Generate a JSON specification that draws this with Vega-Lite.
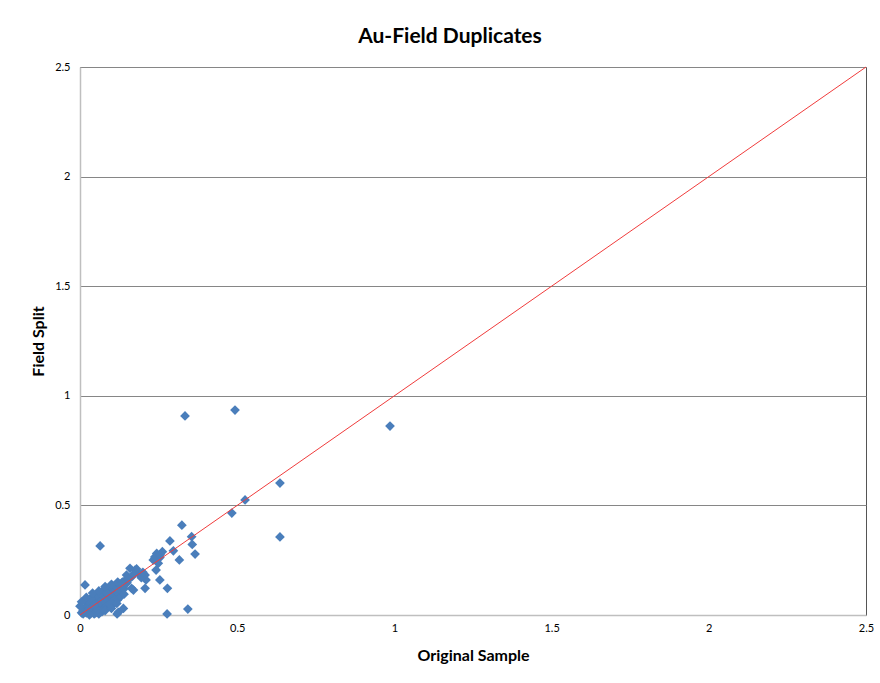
{
  "$schema": "https://vega.github.io/schema/vega-lite/v6.json",
  "width": 786,
  "height": 548,
  "autosize": "none",
  "padding": {"left": 80, "top": 67, "right": 14, "bottom": 68},
  "background": "white",
  "title": {
    "text": "Au-Field Duplicates",
    "font": "Lato",
    "fontSize": 21,
    "fontWeight": "bold",
    "color": "#000000",
    "anchor": "middle",
    "dx": -23,
    "offset": 14
  },
  "config": {
    "view": {"stroke": "#555555", "strokeWidth": 1},
    "axis": {
      "labelFont": "Lato",
      "labelFontSize": 11,
      "labelColor": "#000000",
      "titleFont": "Lato",
      "titleFontSize": 16,
      "titleFontWeight": "bold",
      "titleColor": "#000000",
      "domainColor": "#bfbfbf",
      "domainWidth": 1.5,
      "ticks": false,
      "format": "~g"
    }
  },
  "datasets": {
    "pts": [
      {"orig": 0.005, "split": 0.01}, {"orig": 0.01, "split": 0.005}, {"orig": 0.01, "split": 0.02},
      {"orig": 0.015, "split": 0.03}, {"orig": 0.02, "split": 0.01}, {"orig": 0.02, "split": 0.04},
      {"orig": 0.02, "split": 0.06}, {"orig": 0.025, "split": 0.02}, {"orig": 0.03, "split": 0.05},
      {"orig": 0.03, "split": 0.03}, {"orig": 0.03, "split": 0.07}, {"orig": 0.035, "split": 0.01},
      {"orig": 0.04, "split": 0.04}, {"orig": 0.04, "split": 0.06}, {"orig": 0.04, "split": 0.02},
      {"orig": 0.045, "split": 0.08}, {"orig": 0.05, "split": 0.05}, {"orig": 0.05, "split": 0.03},
      {"orig": 0.05, "split": 0.07}, {"orig": 0.05, "split": 0.01}, {"orig": 0.055, "split": 0.09},
      {"orig": 0.06, "split": 0.06}, {"orig": 0.06, "split": 0.04}, {"orig": 0.06, "split": 0.08},
      {"orig": 0.065, "split": 0.02}, {"orig": 0.07, "split": 0.07}, {"orig": 0.07, "split": 0.05},
      {"orig": 0.07, "split": 0.1}, {"orig": 0.075, "split": 0.03}, {"orig": 0.08, "split": 0.08},
      {"orig": 0.08, "split": 0.06}, {"orig": 0.08, "split": 0.11}, {"orig": 0.085, "split": 0.04},
      {"orig": 0.09, "split": 0.09}, {"orig": 0.09, "split": 0.07}, {"orig": 0.09, "split": 0.12},
      {"orig": 0.1, "split": 0.1}, {"orig": 0.1, "split": 0.08}, {"orig": 0.1, "split": 0.06},
      {"orig": 0.105, "split": 0.12}, {"orig": 0.11, "split": 0.11}, {"orig": 0.11, "split": 0.09},
      {"orig": 0.115, "split": 0.13}, {"orig": 0.12, "split": 0.12}, {"orig": 0.12, "split": 0.1},
      {"orig": 0.125, "split": 0.14}, {"orig": 0.13, "split": 0.13}, {"orig": 0.13, "split": 0.11},
      {"orig": 0.135, "split": 0.15}, {"orig": 0.14, "split": 0.14}, {"orig": 0.14, "split": 0.12},
      {"orig": 0.145, "split": 0.16}, {"orig": 0.15, "split": 0.15}, {"orig": 0.015, "split": 0.07},
      {"orig": 0.025, "split": 0.065}, {"orig": 0.035, "split": 0.075}, {"orig": 0.065, "split": 0.1},
      {"orig": 0.075, "split": 0.115}, {"orig": 0.045, "split": 0.005}, {"orig": 0.07, "split": 0.015},
      {"orig": 0.1, "split": 0.04}, {"orig": 0.11, "split": 0.07}, {"orig": 0.055, "split": 0.025},
      {"orig": 0.095, "split": 0.05}, {"orig": 0.085, "split": 0.1}, {"orig": 0.06, "split": 0.005},
      {"orig": 0.02, "split": 0.08}, {"orig": 0.04, "split": 0.1}, {"orig": 0.06, "split": 0.11},
      {"orig": 0.08, "split": 0.13}, {"orig": 0.1, "split": 0.14}, {"orig": 0.12, "split": 0.15},
      {"orig": 0.03, "split": 0.0}, {"orig": 0.08, "split": 0.02}, {"orig": 0.1, "split": 0.03},
      {"orig": 0.12, "split": 0.07}, {"orig": 0.13, "split": 0.085}, {"orig": 0.14, "split": 0.095},
      {"orig": 0.0, "split": 0.04}, {"orig": 0.005, "split": 0.06}, {"orig": 0.045, "split": 0.045},
      {"orig": 0.016, "split": 0.137}, {"orig": 0.064, "split": 0.315}, {"orig": 0.118, "split": 0.005},
      {"orig": 0.122, "split": 0.012}, {"orig": 0.138, "split": 0.03}, {"orig": 0.117, "split": 0.053},
      {"orig": 0.17, "split": 0.114}, {"orig": 0.148, "split": 0.145}, {"orig": 0.133, "split": 0.145},
      {"orig": 0.159, "split": 0.213}, {"orig": 0.175, "split": 0.205}, {"orig": 0.185, "split": 0.19},
      {"orig": 0.148, "split": 0.182}, {"orig": 0.207, "split": 0.182}, {"orig": 0.21, "split": 0.16},
      {"orig": 0.207, "split": 0.122}, {"orig": 0.164, "split": 0.122}, {"orig": 0.165, "split": 0.175},
      {"orig": 0.18, "split": 0.21}, {"orig": 0.195, "split": 0.17}, {"orig": 0.2, "split": 0.195},
      {"orig": 0.155, "split": 0.165}, {"orig": 0.17, "split": 0.185},
      {"orig": 0.262, "split": 0.289}, {"orig": 0.244, "split": 0.281}, {"orig": 0.233, "split": 0.251},
      {"orig": 0.249, "split": 0.236}, {"orig": 0.242, "split": 0.205}, {"orig": 0.254, "split": 0.262},
      {"orig": 0.238, "split": 0.265}, {"orig": 0.255, "split": 0.275}, {"orig": 0.254, "split": 0.16},
      {"orig": 0.278, "split": 0.122}, {"orig": 0.286, "split": 0.338}, {"orig": 0.297, "split": 0.293},
      {"orig": 0.316, "split": 0.251}, {"orig": 0.324, "split": 0.41}, {"orig": 0.355, "split": 0.357},
      {"orig": 0.357, "split": 0.322}, {"orig": 0.366, "split": 0.278}, {"orig": 0.277, "split": 0.005},
      {"orig": 0.343, "split": 0.027}, {"orig": 0.334, "split": 0.908}, {"orig": 0.493, "split": 0.935},
      {"orig": 0.986, "split": 0.862}, {"orig": 0.636, "split": 0.602}, {"orig": 0.525, "split": 0.525},
      {"orig": 0.483, "split": 0.465}, {"orig": 0.636, "split": 0.356}
    ],
    "line": [
      {"orig": 0, "split": 0},
      {"orig": 2.5, "split": 2.5}
    ]
  },
  "layer": [
    {
      "data": {"name": "pts"},
      "mark": {"type": "point", "shape": "diamond", "filled": true, "size": 95, "color": "#4a7ebb", "opacity": 1},
      "encoding": {
        "x": {
          "field": "orig", "type": "quantitative", "title": "Original Sample",
          "scale": {"domain": [0, 2.5], "nice": false},
          "axis": {"values": [0, 0.5, 1, 1.5, 2, 2.5], "grid": false, "labelPadding": 7, "titlePadding": 14, "labelFlush": false}
        },
        "y": {
          "field": "split", "type": "quantitative", "title": "Field Split",
          "scale": {"domain": [0, 2.5], "nice": false},
          "axis": {"values": [0, 0.5, 1, 1.5, 2, 2.5], "grid": true, "gridColor": "#868686", "gridWidth": 1, "labelPadding": 10, "titlePadding": 8, "labelFlush": false}
        }
      }
    },
    {
      "data": {"name": "line"},
      "mark": {"type": "line", "color": "#f03c3c", "strokeWidth": 1},
      "encoding": {
        "x": {"field": "orig", "type": "quantitative"},
        "y": {"field": "split", "type": "quantitative"}
      }
    }
  ]
}
